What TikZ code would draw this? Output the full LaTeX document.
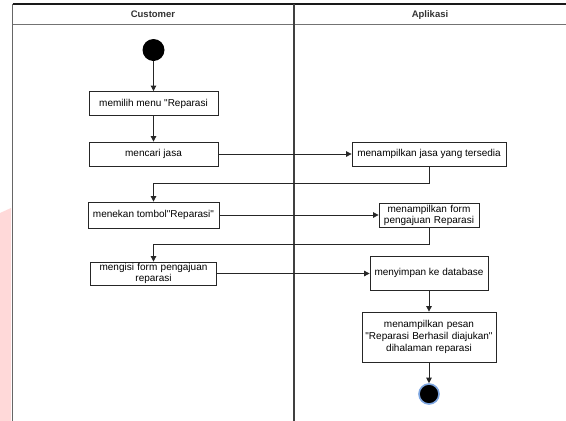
\documentclass[tikz,border=0pt]{standalone}
\usepackage{fontspec}
\setmainfont{Liberation Sans}[Ligatures=TeXOff]
\usetikzlibrary{arrows.meta}
\definecolor{wm}{HTML}{FFD9D9}
\definecolor{endblue}{HTML}{7EA6E0}
\begin{document}
\begin{tikzpicture}[x=1pt,y=-1pt,
  act/.style={draw=black!85, fill=white, line width=0.8pt, inner sep=1pt, align=center,
              font=\fontsize{10}{12}\selectfont},
  lanehead/.style={font=\bfseries\fontsize{9.5}{11}\selectfont, text=black!80, anchor=base},
  flow/.style={-{Triangle[length=5.5pt,width=5.5pt]}, line width=0.8pt, draw=black!85}]
\useasboundingbox (0,0) rectangle (566,421);
% faint watermark band
\fill[wm] (0,213) -- (11,208) -- (11,421) -- (0,421) -- cycle;
% swimlanes
\draw[line width=1pt, black!55] (12.5,24) -- (566,24);
\draw[line width=1.2pt, black!60] (12.5,4) -- (12.5,421);
\draw[line width=1.2pt, black!90] (12.5,4) -- (566,4);
\draw[line width=1.2pt, black!75] (294,4) -- (294,421);
\node[lanehead] (h1) at (153,17.5) {Customer};
\node[lanehead] (h2) at (430,17.5) {Aplikasi};
% activities
\node[circle, fill=black, minimum size=22pt, inner sep=0] (start) at (153.5,50) {};
\node[act, minimum width=129pt, minimum height=24pt] (a1) at (153.5,103.5) {memilih menu "Reparasi};
\node[act, minimum width=129pt, minimum height=24pt] (a2) at (153.5,154) {mencari jasa};
\node[act, minimum width=131pt, minimum height=26pt] (a3) at (153.5,215) {menekan tombol"Reparasi"};
\node[act, minimum width=126pt, minimum height=23pt, text width=124pt] (a4) at (153.5,273.5) {mengisi form pengajuan\\[-1pt]reparasi};
\node[act, minimum width=154pt, minimum height=24pt] (b1) at (429,154) {menampilkan jasa yang tersedia};
\node[act, minimum width=100pt, minimum height=24pt, text width=98pt] (b2) at (429,215) {menampilkan form\\[-1pt]pengajuan Reparasi};
\node[act, minimum width=118pt, minimum height=34pt] (b3) at (429,273) {menyimpan ke database};
\node[act, minimum width=134pt, minimum height=50pt, text width=132pt] (b4) at (429,337) {menampilkan pesan\\"Reparasi Berhasil diajukan"\\dihalaman reparasi};
\node[circle, fill=black, draw=endblue, line width=1.6pt, minimum size=20pt, inner sep=0] (end) at (429,394) {};
% connectors
\draw[flow] (start) -- (a1);
\draw[flow] (a1) -- (a2);
\draw[flow] (a2) -- (b1);
\draw[flow] (b1.south) -- ++(0,17) -| (a3.north);
\draw[flow] (a3) -- (b2);
\draw[flow] (b2.south) -- ++(0,17) -| (a4.north);
\draw[flow] (a4.east) -- (a4.east -| b3.west);
\draw[flow] (b3) -- (b4);
\draw[flow] (b4) -- (end);
\end{tikzpicture}
\end{document}
